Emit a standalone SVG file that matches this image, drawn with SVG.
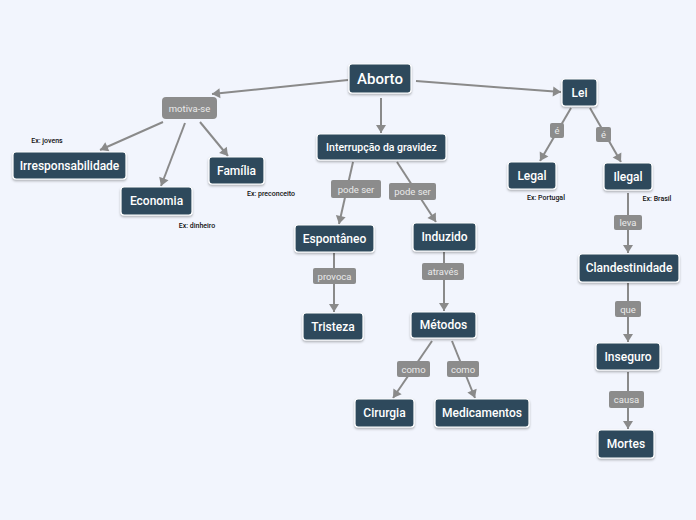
<svg xmlns="http://www.w3.org/2000/svg" width="696" height="520" viewBox="0 0 696 520">
<defs>
<marker id="ah" markerUnits="userSpaceOnUse" markerWidth="12" markerHeight="12" refX="10" refY="6" orient="auto" viewBox="0 0 12 12">
<path d="M2,1 L10,6 L2,11 Z" fill="#8a8a8a"/>
</marker>
<filter id="sh" x="-20%" y="-20%" width="140%" height="160%">
<feDropShadow dx="0" dy="1.5" stdDeviation="1" flood-color="#000" flood-opacity="0.3"/>
</filter>
</defs>
<style>
.n rect{fill:#2d4a5c;stroke:#ffffff;stroke-width:1.2;filter:url(#sh)}
.n text{fill:#ffffff;font-family:Roboto,"Liberation Sans",sans-serif;font-size:12px;font-weight:500;text-anchor:middle;dominant-baseline:central}
.l rect{fill:#8c8c8c}
.l text{fill:#eaeaea;font-family:Roboto,"Liberation Sans",sans-serif;font-size:9.5px;text-anchor:middle;dominant-baseline:central}
.c path{fill:none;stroke:#8a8a8a;stroke-width:2}
.ex{fill:#111;font-family:Roboto,"Liberation Sans",sans-serif;font-size:7px;font-weight:500;text-anchor:middle;dominant-baseline:central}
</style>
<rect width="696" height="520" fill="#f2f5fd"/>
<g id="connectors" class="c">
<path d="M348,80 L212,94" marker-end="url(#ah)"/>
<path d="M163,122 L100,150" marker-end="url(#ah)"/>
<path d="M185,123 L161,186" marker-end="url(#ah)"/>
<path d="M200,122 L228,156" marker-end="url(#ah)"/>
<path d="M381,98 L381,133" marker-end="url(#ah)"/>
<path d="M416,81 L561,92" marker-end="url(#ah)"/>
<path d="M353,162 L339,224" marker-end="url(#ah)"/>
<path d="M397,162 L436,222" marker-end="url(#ah)"/>
<path d="M334,253 L334,312" marker-end="url(#ah)"/>
<path d="M444,252 L444,311" marker-end="url(#ah)"/>
<path d="M432,341 L393,398" marker-end="url(#ah)"/>
<path d="M452,341 L475,398" marker-end="url(#ah)"/>
<path d="M571,108 L540,161" marker-end="url(#ah)"/>
<path d="M590,108 L621,162" marker-end="url(#ah)"/>
<path d="M628,193 L628,253" marker-end="url(#ah)"/>
<path d="M628,283 L628,342" marker-end="url(#ah)"/>
<path d="M628,372 L628,429" marker-end="url(#ah)"/>
</g>
<g id="labels">
<g id="lbl-motiva" class="l"><rect x="162" y="97" width="55" height="22" rx="4"/><text x="189.5" y="108">motiva-se</text></g>
<g id="lbl-pode1" class="l"><rect x="331" y="180" width="50" height="18" rx="2"/><text x="356" y="189">pode ser</text></g>
<g id="lbl-pode2" class="l"><rect x="389" y="183" width="47" height="17" rx="2"/><text x="412.5" y="191.5">pode ser</text></g>
<g id="lbl-provoca" class="l"><rect x="313" y="268" width="43" height="16" rx="2"/><text x="334.5" y="276">provoca</text></g>
<g id="lbl-atraves" class="l"><rect x="422" y="263" width="42" height="17" rx="2"/><text x="443" y="271.5">através</text></g>
<g id="lbl-como1" class="l"><rect x="397" y="361" width="33" height="16" rx="2"/><text x="413.5" y="369">como</text></g>
<g id="lbl-como2" class="l"><rect x="447" y="361" width="32" height="16" rx="2"/><text x="463" y="369">como</text></g>
<g id="lbl-e1" class="l"><rect x="550" y="123" width="14" height="15" rx="2"/><text x="557" y="130.5">é</text></g>
<g id="lbl-e2" class="l"><rect x="596" y="127" width="15" height="15" rx="2"/><text x="603.5" y="134.5">é</text></g>
<g id="lbl-leva" class="l"><rect x="614" y="215" width="28" height="15" rx="2"/><text x="628" y="222.5">leva</text></g>
<g id="lbl-que" class="l"><rect x="615" y="301" width="26" height="16" rx="2"/><text x="628" y="309">que</text></g>
<g id="lbl-causa" class="l"><rect x="609" y="391" width="35" height="17" rx="2"/><text x="626.5" y="399.5">causa</text></g>
</g>
<g id="aborto" class="n"><rect x="349" y="64" width="62" height="29" rx="3"/><text x="380" y="78.5" style="font-size:15px">Aborto</text></g>
<g id="interrupcao" class="n"><rect x="317" y="134" width="129" height="26" rx="3"/><text x="381.5" y="147" style="font-size:10.5px">Interrupção da gravidez</text></g>
<g id="lei" class="n"><rect x="562" y="79" width="35" height="27" rx="3"/><text x="579.5" y="92.5">Lei</text></g>
<g id="legal" class="n"><rect x="508" y="162" width="48" height="27" rx="3"/><text x="532" y="175.5">Legal</text></g>
<g id="ilegal" class="n"><rect x="604" y="163" width="48" height="27" rx="3"/><text x="628" y="176.5">Ilegal</text></g>
<g id="irresponsabilidade" class="n"><rect x="13" y="152" width="113" height="27" rx="3"/><text x="69.5" y="165.5">Irresponsabilidade</text></g>
<g id="economia" class="n"><rect x="121" y="187" width="71" height="28" rx="3"/><text x="156.5" y="201">Economia</text></g>
<g id="familia" class="n"><rect x="209" y="157" width="55" height="27" rx="3"/><text x="236.5" y="170.5">Família</text></g>
<g id="espontaneo" class="n"><rect x="295" y="225" width="79" height="27" rx="3"/><text x="334.5" y="238.5">Espontâneo</text></g>
<g id="induzido" class="n"><rect x="413" y="223" width="63" height="28" rx="3"/><text x="444.5" y="237">Induzido</text></g>
<g id="tristeza" class="n"><rect x="303" y="313" width="60" height="27" rx="3"/><text x="333" y="326.5">Tristeza</text></g>
<g id="metodos" class="n"><rect x="411" y="312" width="65" height="26" rx="3"/><text x="443.5" y="325">Métodos</text></g>
<g id="cirurgia" class="n"><rect x="355" y="399" width="59" height="28" rx="3"/><text x="384.5" y="413">Cirurgia</text></g>
<g id="medicamentos" class="n"><rect x="435" y="399" width="94" height="28" rx="3"/><text x="482" y="413">Medicamentos</text></g>
<g id="clandestinidade" class="n"><rect x="579" y="254" width="100" height="28" rx="3"/><text x="629" y="268">Clandestinidade</text></g>
<g id="inseguro" class="n"><rect x="596" y="343" width="64" height="27" rx="3"/><text x="628" y="356.5">Inseguro</text></g>
<g id="mortes" class="n"><rect x="598" y="430" width="56" height="28" rx="3"/><text x="626" y="444">Mortes</text></g>
<g id="notes">
<text class="ex" x="47" y="141">Ex: jovens</text>
<text class="ex" x="271" y="194">Ex: preconceito</text>
<text class="ex" x="197" y="226">Ex: dinheiro</text>
<text class="ex" x="546" y="197.5">Ex: Portugal</text>
<text class="ex" x="657" y="198.5">Ex: Brasil</text>
</g>
</svg>
